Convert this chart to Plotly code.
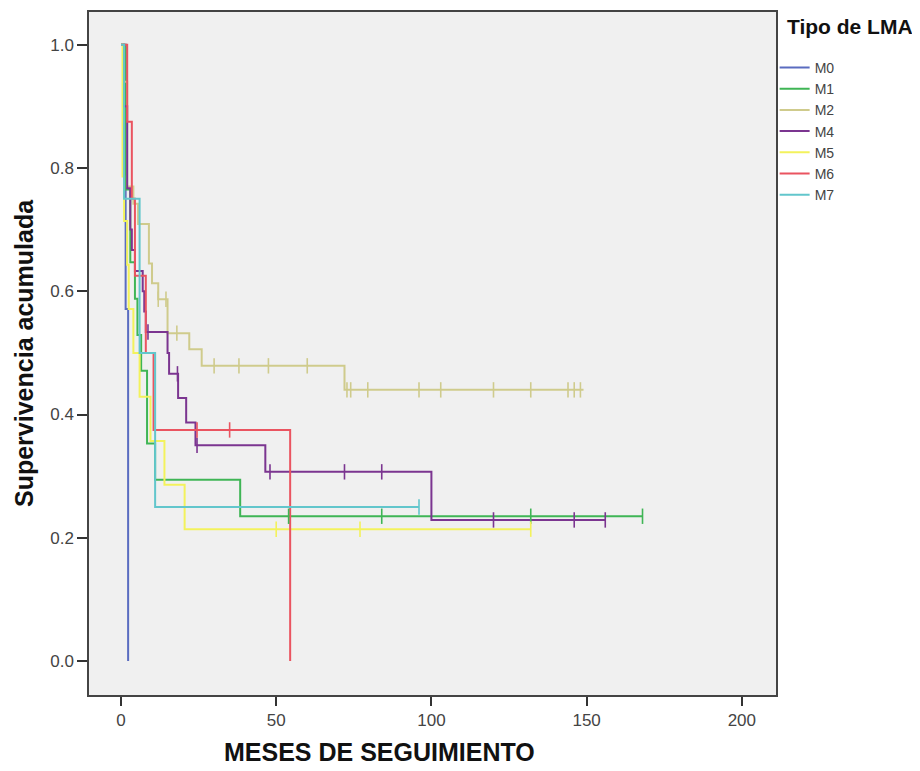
import plotly.graph_objects as go

# ---- data ----
groups = ["M0", "M1", "M2", "M4", "M5", "M6", "M7"]
colors = {"M0": "#5a6cc0", "M1": "#3fb555", "M2": "#cfcb8c", "M4": "#7b3590",
          "M5": "#f3f25c", "M6": "#ea5460", "M7": "#62c6cc"}

# event times and survival after each event
M0_t = [1.5, 2.3]
M0_s = [0.571, 0.0]
M0_c = []
M0_end = 2.3

M1_t = [1.5, 3.0, 4.5, 5.3, 6.5, 8.4, 11.0, 38.4]
M1_s = [0.765, 0.647, 0.588, 0.529, 0.471, 0.353, 0.294, 0.235]
M1_c = [54, 84, 132, 168]
M1_end = 168

M2_t = [1.0, 2.0, 4.0, 5.5, 9.0, 10.0, 12.0, 15.0, 22.0, 26.0, 72.0]
M2_s = [0.94, 0.77, 0.742, 0.709, 0.645, 0.613, 0.587, 0.532, 0.506, 0.479, 0.44]
M2_c = [12, 14.5, 18, 30, 38, 47.5, 60, 72.8, 74, 79.5, 96, 103, 120, 132, 144, 146, 148]
M2_end = 149

M4_t = [1.0, 2.0, 3.0, 3.5, 4.5, 7.0, 7.5, 8.0, 15.0, 15.5, 18.4, 21.0, 24.0, 46.5, 100.0]
M4_s = [0.9, 0.767, 0.7, 0.667, 0.633, 0.6, 0.567, 0.534, 0.5, 0.466, 0.427, 0.387, 0.35, 0.307, 0.229]
M4_c = [8.7, 18.2, 24.5, 48, 72, 84, 120, 146, 156]
M4_end = 156

M5_t = [0.5, 1.0, 2.0, 2.5, 4.0, 6.0, 9.5, 14.0, 20.5]
M5_s = [0.786, 0.714, 0.643, 0.571, 0.5, 0.429, 0.357, 0.286, 0.214]
M5_c = [50, 77, 132]
M5_end = 132

M6_t = [2.0, 3.5, 4.5, 8.0, 10.5, 54.5]
M6_s = [0.875, 0.75, 0.625, 0.5, 0.375, 0.0]
M6_c = [24.5, 35]
M6_end = 54.5

M7_t = [1.0, 6.0, 11.0]
M7_s = [0.75, 0.5, 0.25]
M7_c = [96]
M7_end = 96

x_ticks = [0, 50, 100, 150, 200]
y_ticks = [0.0, 0.2, 0.4, 0.6, 0.8, 1.0]

data = {
    "M0": (M0_t, M0_s, M0_c, M0_end),
    "M1": (M1_t, M1_s, M1_c, M1_end),
    "M2": (M2_t, M2_s, M2_c, M2_end),
    "M4": (M4_t, M4_s, M4_c, M4_end),
    "M5": (M5_t, M5_s, M5_c, M5_end),
    "M6": (M6_t, M6_s, M6_c, M6_end),
    "M7": (M7_t, M7_s, M7_c, M7_end),
}


def surv_at(t, times, surv):
    s = 1.0
    for ti, si in zip(times, surv):
        if ti <= t:
            s = si
    return s


fig = go.Figure()
for g in groups:
    times, surv, cens, end = data[g]
    xs = [0] + list(times)
    ys = [1.0] + list(surv)
    if end > xs[-1]:
        xs.append(end)
        ys.append(ys[-1])
    fig.add_trace(go.Scatter(
        x=xs, y=ys, mode="lines", name=g,
        line=dict(color=colors[g], width=2, shape="hv"),
    ))
for g in groups:
    times, surv, cens, end = data[g]
    if not cens:
        continue
    fig.add_trace(go.Scatter(
        x=cens, y=[surv_at(c, times, surv) for c in cens], mode="markers",
        showlegend=False,
        marker=dict(symbol="line-ns", size=11,
                    line=dict(color=colors[g], width=1.6)),
    ))

font_main = "Liberation Sans, Arial"

# page body has an 8px offset; plot area should land at x 89..776, y 10..695
fig.update_layout(
    width=920, height=771,
    margin=dict(l=81, r=152, t=2, b=84),
    paper_bgcolor="white",
    plot_bgcolor="#f0f0f0",
    font=dict(family=font_main, size=15, color="#4a4a4a"),
    xaxis=dict(range=[-10.3, 211], tickvals=x_ticks, ticks="outside", ticklen=9,
               tickwidth=1.5, tickcolor="#333", showgrid=False, zeroline=False,
               showline=True, linecolor="#444", linewidth=1.5, mirror=True,
               tickfont=dict(size=17, color="#444")),
    yaxis=dict(range=[-0.055, 1.053], tickvals=y_ticks, tickformat=".1f",
               ticks="outside", ticklen=10, tickwidth=1.5, tickcolor="#333",
               showgrid=False, zeroline=False, showline=True, linecolor="#444",
               linewidth=1.5, mirror=True,
               tickfont=dict(size=17, color="#444")),
    legend=dict(x=0.998, xanchor="left", y=1 - (50 - 10) / 685, yanchor="top",
                font=dict(size=14, color="#444"),
                bgcolor="rgba(0,0,0,0)", itemwidth=30, tracegroupgap=0),
    showlegend=True,
)

fig.add_annotation(text="<b>Tipo de LMA</b>", xref="paper", yref="paper",
                   x=(785 - 89) / 687, y=1 - (25 - 10) / 685, xanchor="left", yanchor="middle",
                   showarrow=False, font=dict(family=font_main, size=21, color="#111"))
fig.add_annotation(text="<b>MESES DE SEGUIMIENTO</b>", xref="paper", yref="paper",
                   x=(379 - 89) / 687, y=-(752 - 695) / 685, xanchor="center", yanchor="middle",
                   showarrow=False, font=dict(family=font_main, size=25, color="#111"))
fig.add_annotation(text="<b>Supervivencia acumulada</b>", xref="paper", yref="paper",
                   x=-(89 - 24) / 687, y=(695 - 352) / 685, xanchor="center", yanchor="middle",
                   textangle=-90, showarrow=False,
                   font=dict(family=font_main, size=25, color="#111"))

fig.write_html("out.html")
